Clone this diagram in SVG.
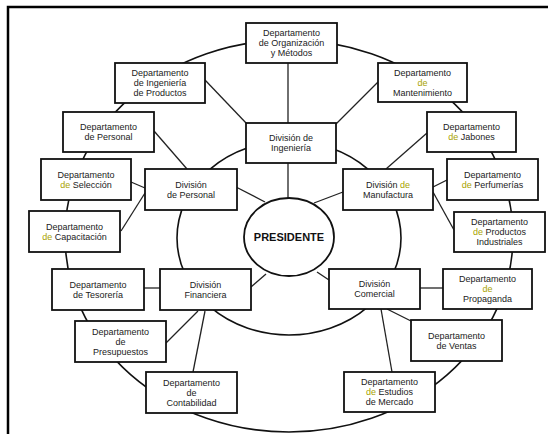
<svg xmlns="http://www.w3.org/2000/svg" width="548" height="434" viewBox="0 0 548 434">
<style>
.bx{fill:#fff;stroke:#111;stroke-width:1.8}
.ln{stroke:#222;stroke-width:1.3;fill:none}
.el{stroke:#111;stroke-width:1.6;fill:none}
text{font-family:"Liberation Sans",Arial,sans-serif;font-size:9px;fill:#222;text-anchor:middle}
.hl{fill:#a8a300}
.pres{font-size:11px;font-weight:bold;fill:#111}
</style>
<rect width="548" height="434" fill="#fff"/>
<path d="M8,434 V7 H548" fill="none" stroke="#000" stroke-width="2.5"/>
<g id="rings">
<ellipse class="el" cx="289" cy="236" rx="224" ry="196"/>
<ellipse class="el" cx="289" cy="238" rx="112" ry="97"/>
</g>
<g id="connectors">
<line class="ln" x1="288" y1="63" x2="288" y2="123"/>
<line class="ln" x1="288" y1="163" x2="288" y2="198"/>
<line class="ln" x1="205" y1="80" x2="247" y2="124"/>
<line class="ln" x1="378" y1="82" x2="336" y2="124"/>
<line class="ln" x1="154" y1="131" x2="187" y2="169"/>
<line class="ln" x1="131" y1="182" x2="145" y2="188"/>
<line class="ln" x1="121" y1="231" x2="145" y2="193"/>
<line class="ln" x1="236" y1="187" x2="265" y2="202"/>
<line class="ln" x1="144" y1="288" x2="160" y2="288"/>
<line class="ln" x1="166" y1="343" x2="198" y2="311"/>
<line class="ln" x1="193" y1="372" x2="205" y2="311"/>
<line class="ln" x1="251" y1="287" x2="266" y2="274"/>
<line class="ln" x1="343" y1="192" x2="314" y2="203"/>
<line class="ln" x1="427" y1="133" x2="386" y2="169"/>
<line class="ln" x1="447" y1="180" x2="433" y2="187"/>
<line class="ln" x1="433" y1="192" x2="454" y2="230"/>
<line class="ln" x1="329" y1="280" x2="317" y2="272"/>
<line class="ln" x1="420" y1="288" x2="443" y2="288"/>
<line class="ln" x1="387" y1="309" x2="411" y2="321"/>
<line class="ln" x1="381" y1="309" x2="392" y2="372"/>
</g>
<g id="presidente">
<ellipse cx="289" cy="237" rx="45" ry="39" fill="#fff" stroke="#111" stroke-width="1.8"/>
<text class="pres" x="289" y="241">PRESIDENTE</text>
</g>
<g id="dep-organizacion">
<rect class="bx" x="246" y="23" width="91" height="40"/>
<text x="291.5" y="36.3">Departamento</text><text x="291.5" y="46.3">de Organización</text><text x="291.5" y="56.3">y Métodos</text>
</g>
<g id="dep-ing-productos">
<rect class="bx" x="115" y="63" width="90" height="40"/>
<text x="160" y="76.3">Departamento</text><text x="160" y="86.3">de Ingeniería</text><text x="160" y="96.3">de Productos</text>
</g>
<g id="dep-mantenimiento">
<rect class="bx" x="378" y="63" width="89" height="39"/>
<text x="422.5" y="75.8">Departamento</text><text x="422.5" y="85.8" class="hl">de</text><text x="422.5" y="95.8">Mantenimiento</text>
</g>
<g id="div-ingenieria">
<rect class="bx" x="246" y="123" width="90" height="40"/>
<text x="291" y="141.3">División de</text><text x="291" y="151.3">Ingeniería</text>
</g>
<g id="dep-personal">
<rect class="bx" x="63" y="112" width="91" height="40"/>
<text x="108.5" y="130.3">Departamento</text><text x="108.5" y="140.3">de Personal</text>
</g>
<g id="dep-jabones">
<rect class="bx" x="427" y="112" width="89" height="40"/>
<text x="471.5" y="130.3">Departamento</text><text x="471.5" y="140.3"><tspan class="hl">de</tspan> Jabones</text>
</g>
<g id="dep-seleccion">
<rect class="bx" x="41" y="159" width="90" height="41"/>
<text x="86" y="177.8">Departamento</text><text x="86" y="187.8"><tspan class="hl">de</tspan> Selección</text>
</g>
<g id="dep-perfumerias">
<rect class="bx" x="447" y="159" width="91" height="41"/>
<text x="492.5" y="177.8">Departamento</text><text x="492.5" y="187.8"><tspan class="hl">de</tspan> Perfumerías</text>
</g>
<g id="div-personal">
<rect class="bx" x="145" y="169" width="92" height="41"/>
<text x="191" y="187.8">División</text><text x="191" y="197.8">de Personal</text>
</g>
<g id="div-manufactura">
<rect class="bx" x="343" y="169" width="90" height="41"/>
<text x="388" y="187.8">División <tspan class="hl">de</tspan></text><text x="388" y="197.8">Manufactura</text>
</g>
<g id="dep-capacitacion">
<rect class="bx" x="29" y="211" width="91" height="41"/>
<text x="74.5" y="229.8">Departamento</text><text x="74.5" y="239.8"><tspan class="hl">de</tspan> Capacitación</text>
</g>
<g id="dep-productos-industriales">
<rect class="bx" x="454" y="212" width="91" height="40"/>
<text x="499.5" y="225.3">Departamento</text><text x="499.5" y="235.3"><tspan class="hl">de</tspan> Productos</text><text x="499.5" y="245.3">Industriales</text>
</g>
<g id="dep-tesoreria">
<rect class="bx" x="52" y="269" width="92" height="41"/>
<text x="98" y="287.8">Departamento</text><text x="98" y="297.8">de Tesorería</text>
</g>
<g id="div-financiera">
<rect class="bx" x="160" y="269" width="91" height="41"/>
<text x="205.5" y="287.8">División</text><text x="205.5" y="297.8">Financiera</text>
</g>
<g id="div-comercial">
<rect class="bx" x="329" y="269" width="91" height="40"/>
<text x="374.5" y="287.3">División</text><text x="374.5" y="297.3">Comercial</text>
</g>
<g id="dep-propaganda">
<rect class="bx" x="443" y="269" width="89" height="40"/>
<text x="487.5" y="282.3">Departamento</text><text x="487.5" y="292.3" class="hl">de</text><text x="487.5" y="302.3">Propaganda</text>
</g>
<g id="dep-presupuestos">
<rect class="bx" x="75" y="321" width="91" height="41"/>
<text x="120.5" y="334.8">Departamento</text><text x="120.5" y="344.8">de</text><text x="120.5" y="354.8">Presupuestos</text>
</g>
<g id="dep-ventas">
<rect class="bx" x="411" y="320" width="91" height="41"/>
<text x="456.5" y="338.8">Departamento</text><text x="456.5" y="348.8">de Ventas</text>
</g>
<g id="dep-contabilidad">
<rect class="bx" x="146" y="372" width="91" height="41"/>
<text x="191.5" y="385.8">Departamento</text><text x="191.5" y="395.8">de</text><text x="191.5" y="405.8">Contabilidad</text>
</g>
<g id="dep-estudios-mercado">
<rect class="bx" x="344" y="372" width="91" height="40"/>
<text x="389.5" y="385.3">Departamento</text><text x="389.5" y="395.3"><tspan class="hl">de</tspan> Estudios</text><text x="389.5" y="405.3">de Mercado</text>
</g>
</svg>
